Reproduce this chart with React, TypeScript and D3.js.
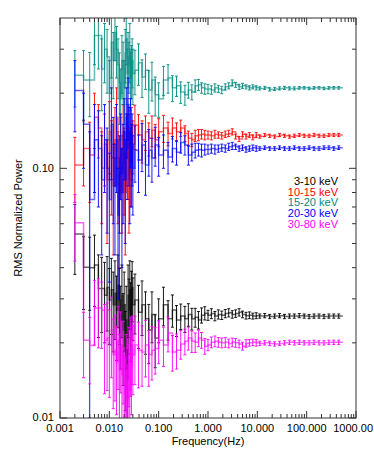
import React from 'react'
import * as d3 from 'd3'

// frequency bins (Hz), grouped the same way in every array below
const FREQ = [
  0.002, 0.003, 0.004, 0.005, 0.006, 0.007, 0.008, 0.009, 0.010, 0.011, 0.012, 0.013, 0.014, 0.015, 0.016, 0.017, 0.018, 0.019, 0.020, 0.021, 0.022, 0.023, 0.024, 0.025, 0.026, 0.027, 0.028, 0.029, 0.030,
  0.033, 0.039, 0.046, 0.054, 0.063, 0.073, 0.085,
  0.10, 0.125, 0.155, 0.19, 0.23, 0.28, 0.34, 0.40, 0.47, 0.55, 0.64, 0.74, 0.86,
  1.0, 1.17, 1.38, 1.62, 1.9, 2.24, 2.63, 3.1, 3.63, 4.27, 5.0, 5.9, 6.9, 8.1, 9.5,
  11.2, 14.1, 17.8, 22.4, 28.2, 35.5, 44.7, 56.2, 70.8, 89.1, 112, 141, 178, 224, 282, 355, 447,
]
const FREQ_END = 540

const BLACK = [
  0.0546, 0.0402, 0.040, 0.041, 0.033, 0.033, 0.031, 0.0333, 0.0297, 0.0326, 0.0284, 0.0316, 0.027, 0.034, 0.0297, 0.0247, 0.031, 0.0225, 0.0284, 0.0187, 0.0247, 0.0142, 0.031, 0.027, 0.0326, 0.0258, 0.0297, 0.0333, 0.0284,
  0.0297, 0.0265, 0.0284, 0.025, 0.0225, 0.026, 0.0209,
  0.025, 0.0284, 0.025, 0.0271, 0.0247, 0.0256, 0.025, 0.026, 0.025, 0.0253, 0.0247, 0.0258, 0.0263,
  0.0258, 0.0262, 0.0256, 0.026, 0.0258, 0.0262, 0.0264, 0.026, 0.0262, 0.0265, 0.026, 0.0257, 0.0258, 0.0256, 0.0257,
  0.0256, 0.0257, 0.0255, 0.0256, 0.0257, 0.0255, 0.0256, 0.0256, 0.0257, 0.0256, 0.0255, 0.0256, 0.0256, 0.0255, 0.0256, 0.0256, 0.0256,
]
const BLACK_ERR = [
  0.017, 0.013, 0.013, 0.013, 0.012, 0.011, 0.011, 0.011, 0.01, 0.011, 0.01, 0.011, 0.01, 0.011, 0.01, 0.009, 0.01, 0.009, 0.01, 0.008, 0.009, 0.0045, 0.01, 0.009, 0.01, 0.009, 0.009, 0.009, 0.008,
  0.008, 0.0075, 0.007, 0.007, 0.006, 0.006, 0.005,
  0.005, 0.005, 0.0045, 0.004, 0.0035, 0.003, 0.003, 0.0027, 0.0025, 0.0022, 0.002, 0.0018, 0.0016,
  0.0012, 0.0012, 0.0011, 0.0011, 0.001, 0.001, 0.001, 0.0009, 0.0009, 0.0009, 0.0008, 0.0008, 0.0008, 0.0007, 0.0007,
  0.0005, 0.0005, 0.0005, 0.0005, 0.0005, 0.0005, 0.0005, 0.0005, 0.0005, 0.0005, 0.0005, 0.0005, 0.0005, 0.0005, 0.0005, 0.0005, 0.0005,
]

const RED = [
  0.103, 0.12, 0.113, 0.16, 0.145, 0.10, 0.125, 0.09, 0.14, 0.11, 0.085, 0.13, 0.16, 0.10, 0.075, 0.12, 0.095, 0.14, 0.105, 0.08, 0.125, 0.15, 0.11, 0.09, 0.13, 0.105, 0.14, 0.12, 0.125,
  0.149, 0.136, 0.13, 0.14, 0.132, 0.142, 0.13,
  0.14, 0.145, 0.138, 0.145, 0.14, 0.145, 0.138, 0.132, 0.13, 0.135, 0.136, 0.137, 0.136,
  0.136, 0.135, 0.137, 0.136, 0.135, 0.137, 0.138, 0.14, 0.134, 0.131, 0.137, 0.134, 0.136, 0.133, 0.136,
  0.134, 0.136, 0.135, 0.134, 0.136, 0.135, 0.134, 0.135, 0.136, 0.135, 0.135, 0.136, 0.135, 0.135, 0.136, 0.136, 0.136,
]
const RED_ERR = [
  0.03, 0.035, 0.04, 0.04, 0.035, 0.04, 0.04, 0.04, 0.045, 0.045, 0.04, 0.045, 0.05, 0.04, 0.035, 0.04, 0.04, 0.04, 0.04, 0.035, 0.04, 0.04, 0.035, 0.035, 0.035, 0.035, 0.035, 0.03, 0.03,
  0.03, 0.028, 0.025, 0.022, 0.02, 0.02, 0.02,
  0.018, 0.018, 0.015, 0.014, 0.012, 0.011, 0.01, 0.009, 0.008, 0.007, 0.007, 0.006, 0.006,
  0.005, 0.005, 0.005, 0.004, 0.004, 0.004, 0.004, 0.004, 0.003, 0.003, 0.003, 0.003, 0.003, 0.003, 0.003,
  0.002, 0.002, 0.002, 0.002, 0.002, 0.002, 0.002, 0.002, 0.002, 0.002, 0.002, 0.002, 0.002, 0.002, 0.002, 0.002, 0.002,
]

const TEAL = [
  0.236, 0.226, 0.226, 0.34, 0.34, 0.25, 0.30, 0.28, 0.20, 0.32, 0.27, 0.35, 0.30, 0.26, 0.22, 0.19, 0.27, 0.25, 0.21, 0.29, 0.33, 0.24, 0.28, 0.26, 0.30, 0.23, 0.25, 0.27, 0.24,
  0.247, 0.265, 0.232, 0.247, 0.206, 0.226, 0.197,
  0.19, 0.226, 0.23, 0.21, 0.214, 0.202, 0.197, 0.206, 0.202, 0.214, 0.216, 0.21, 0.208,
  0.208, 0.206, 0.21, 0.208, 0.206, 0.212, 0.214, 0.22, 0.216, 0.212, 0.214, 0.212, 0.21, 0.212, 0.21,
  0.209, 0.21, 0.207, 0.208, 0.209, 0.21, 0.209, 0.209, 0.21, 0.21, 0.209, 0.21, 0.21, 0.209, 0.21, 0.21, 0.21,
]
const TEAL_ERR = [
  0.06, 0.07, 0.065, 0.08, 0.09, 0.08, 0.08, 0.08, 0.07, 0.09, 0.08, 0.08, 0.07, 0.07, 0.07, 0.06, 0.07, 0.07, 0.06, 0.07, 0.07, 0.06, 0.07, 0.06, 0.08, 0.06, 0.06, 0.06, 0.06,
  0.05, 0.05, 0.04, 0.04, 0.04, 0.04, 0.035,
  0.03, 0.03, 0.03, 0.025, 0.02, 0.02, 0.018, 0.015, 0.014, 0.012, 0.011, 0.01, 0.01,
  0.009, 0.008, 0.008, 0.007, 0.007, 0.006, 0.006, 0.006, 0.005, 0.005, 0.005, 0.004, 0.004, 0.004, 0.004,
  0.003, 0.003, 0.003, 0.003, 0.003, 0.003, 0.003, 0.003, 0.0025, 0.0025, 0.0025, 0.0025, 0.0025, 0.0025, 0.0025, 0.0025, 0.0025,
]

const BLUE = [
  0.205, 0.15, 0.075, 0.13, 0.12, 0.09, 0.13, 0.10, 0.075, 0.15, 0.11, 0.085, 0.13, 0.065, 0.095, 0.12, 0.08, 0.105, 0.14, 0.09, 0.16, 0.12, 0.18, 0.13, 0.10, 0.145, 0.11, 0.125, 0.10,
  0.118, 0.108, 0.124, 0.103, 0.118, 0.11, 0.124,
  0.113, 0.118, 0.111, 0.12, 0.116, 0.127, 0.124, 0.113, 0.116, 0.118, 0.119, 0.118, 0.119,
  0.119, 0.12, 0.119, 0.12, 0.121, 0.12, 0.122, 0.123, 0.122, 0.12, 0.121, 0.119, 0.12, 0.121, 0.12,
  0.12, 0.121, 0.12, 0.12, 0.121, 0.12, 0.12, 0.121, 0.12, 0.12, 0.121, 0.12, 0.12, 0.121, 0.121, 0.12, 0.121,
]
const BLUE_ERR = [
  0.065, 0.05, 0.065, 0.05, 0.05, 0.045, 0.05, 0.045, 0.04, 0.06, 0.05, 0.04, 0.05, 0.035, 0.04, 0.045, 0.04, 0.045, 0.05, 0.04, 0.05, 0.045, 0.05, 0.045, 0.04, 0.045, 0.04, 0.04, 0.035,
  0.03, 0.028, 0.027, 0.025, 0.025, 0.022, 0.022,
  0.02, 0.018, 0.016, 0.014, 0.013, 0.012, 0.011, 0.01, 0.009, 0.008, 0.007, 0.007, 0.006,
  0.005, 0.005, 0.005, 0.004, 0.004, 0.004, 0.004, 0.004, 0.003, 0.003, 0.003, 0.003, 0.003, 0.003, 0.003,
  0.002, 0.002, 0.002, 0.002, 0.002, 0.002, 0.002, 0.002, 0.002, 0.002, 0.002, 0.002, 0.002, 0.002, 0.002, 0.002, 0.002,
]

const MAGENTA = [
  0.0605, 0.0205, 0.0195, 0.0276, 0.0276, 0.027, 0.0205, 0.0209, 0.0196, 0.0225, 0.0179, 0.0187, 0.0168, 0.0205, 0.0156, 0.0196, 0.0149, 0.0179, 0.0136, 0.0124, 0.0156, 0.0118, 0.0142, 0.0171, 0.0129, 0.0187, 0.0163, 0.0196, 0.0179,
  0.0196, 0.0187, 0.0184, 0.0196, 0.0179, 0.0187, 0.019,
  0.0205, 0.0196, 0.0219, 0.0184, 0.0187, 0.0198, 0.0203, 0.0209, 0.0203, 0.0201, 0.0209, 0.0205, 0.0194,
  0.0196, 0.0201, 0.0203, 0.0201, 0.02, 0.0201, 0.0199, 0.0201, 0.02, 0.0198, 0.0194, 0.0199, 0.02, 0.0201, 0.02,
  0.0199, 0.02, 0.0199, 0.0198, 0.0199, 0.02, 0.0201, 0.02, 0.0201, 0.02, 0.02, 0.0201, 0.02, 0.02, 0.0201, 0.0201, 0.0201,
]
const MAGENTA_ERR = [
  0.018, 0.006, 0.0058, 0.008, 0.0085, 0.008, 0.008, 0.008, 0.0075, 0.008, 0.007, 0.007, 0.0065, 0.0075, 0.006, 0.007, 0.006, 0.0065, 0.0055, 0.005, 0.006, 0.0045, 0.0055, 0.006, 0.005, 0.0065, 0.006, 0.006, 0.0055,
  0.006, 0.0055, 0.005, 0.005, 0.0045, 0.0045, 0.004,
  0.004, 0.0035, 0.0035, 0.003, 0.003, 0.0026, 0.0024, 0.0022, 0.002, 0.0018, 0.0016, 0.0015, 0.0014,
  0.001, 0.001, 0.001, 0.0009, 0.0009, 0.0009, 0.0008, 0.0008, 0.0008, 0.0007, 0.0007, 0.0007, 0.0006, 0.0006, 0.0006,
  0.0004, 0.0004, 0.0004, 0.0004, 0.0004, 0.0004, 0.0004, 0.0004, 0.0004, 0.0004, 0.0004, 0.0004, 0.0004, 0.0004, 0.0004, 0.0004, 0.0004,
]

const BAND_LABELS = ['3-10 keV', '10-15 keV', '15-20 keV', '20-30 keV', '30-80 keV']
const BAND_COLORS = ['#000000', '#ff0000', '#008b80', '#0000ff', '#ff00ff']
const BAND_VALUES = [BLACK, RED, TEAL, BLUE, MAGENTA]
const BAND_ERRORS = [BLACK_ERR, RED_ERR, TEAL_ERR, BLUE_ERR, MAGENTA_ERR]

const X_TICKS = [0.001, 0.01, 0.1, 1, 10, 100, 1000]
const X_TICK_LABELS = ['0.001', '0.010', '0.100', '1.000', '10.000', '100.000', '1000.00']
const Y_TICKS = [0.01, 0.1]
const Y_TICK_LABELS = ['0.01', '0.10']

const W = 374
const H = 457
const margin = { top: 18, right: 18, bottom: 39, left: 60 }
const FONT = "'Liberation Sans', Arial, Helvetica, sans-serif"

export default function App() {
  const innerW = W - margin.left - margin.right
  const innerH = H - margin.top - margin.bottom

  const x = d3.scaleLog().domain([0.001, 1000]).range([0, innerW])
  const y = d3.scaleLog().domain([0.01, 0.4]).range([innerH, 0])

  // minor ticks 2..9 of each decade
  const xMinor: number[] = []
  for (let d = 0.001; d < 1000; d *= 10) {
    for (let k = 2; k <= 9; k++) xMinor.push(d * k)
  }
  const yMinor = [0.02, 0.03, 0.04, 0.05, 0.06, 0.07, 0.08, 0.09, 0.2, 0.3]

  const line = d3.line<[number, number]>()
    .x(d => x(d[0]))
    .y(d => y(d[1]))
    .curve(d3.curveStepAfter)

  const series = BAND_LABELS.map((label, k) => {
    const vals = BAND_VALUES[k]
    const errs = BAND_ERRORS[k]
    const pts: [number, number][] = FREQ.map((f, i) => [f, vals[i]])
    pts.push([FREQ_END, vals[vals.length - 1]])
    let bars = ''
    FREQ.forEach((f, i) => {
      const cx = x(f)
      const hi = y(vals[i] + errs[i])
      const lo = y(Math.max(vals[i] - errs[i], 0.002))
      bars += `M${cx},${hi}V${lo}M${cx - 1.5},${hi}H${cx + 1.5}M${cx - 1.5},${lo}H${cx + 1.5}`
    })
    return { label, color: BAND_COLORS[k], step: line(pts) || '', bars }
  })

  const major = 7
  const minor = 4
  const lastTick = X_TICKS.length - 1

  return (
    <div style={{ position: 'absolute', left: 0, top: 0, width: W, height: H, background: '#fff' }}>
      <svg width={W} height={H} style={{ display: 'block' }} fontFamily={FONT}>
        <defs>
          <clipPath id="plotClip">
            <rect x={0} y={0} width={innerW} height={innerH} />
          </clipPath>
        </defs>
        <g transform={`translate(${margin.left},${margin.top})`}>
          <g clipPath="url(#plotClip)">
            {series.map(s => (
              <g key={s.label}>
                <path d={s.step} fill="none" stroke={s.color} strokeWidth={1.5} strokeOpacity={0.6} />
                <path d={s.bars} fill="none" stroke={s.color} strokeWidth={1} strokeOpacity={0.9} />
              </g>
            ))}
          </g>

          {/* frame */}
          <rect x={0} y={0} width={innerW} height={innerH} fill="none" stroke="#333" strokeWidth={1} />

          {/* x ticks, bottom and top */}
          {X_TICKS.map(t => (
            <g key={'xt' + t}>
              <line x1={x(t)} x2={x(t)} y1={innerH} y2={innerH - major} stroke="#333" />
              <line x1={x(t)} x2={x(t)} y1={0} y2={major} stroke="#333" />
            </g>
          ))}
          {xMinor.map(t => (
            <g key={'xm' + t}>
              <line x1={x(t)} x2={x(t)} y1={innerH} y2={innerH - minor} stroke="#333" />
              <line x1={x(t)} x2={x(t)} y1={0} y2={minor} stroke="#333" />
            </g>
          ))}
          {X_TICKS.map((t, i) => (
            <text
              key={'xl' + t}
              x={i === lastTick ? W - margin.left - 1 : x(t)}
              y={innerH + 14}
              textAnchor={i === lastTick ? 'end' : 'middle'}
              fontSize={11}
              fill="#000"
            >
              {X_TICK_LABELS[i]}
            </text>
          ))}
          <text x={innerW / 2} y={innerH + 27} textAnchor="middle" fontSize={11} fill="#000">
            Frequency(Hz)
          </text>

          {/* y ticks, left and right */}
          {Y_TICKS.map(t => (
            <g key={'yt' + t}>
              <line x1={0} x2={major} y1={y(t)} y2={y(t)} stroke="#333" />
              <line x1={innerW} x2={innerW - major} y1={y(t)} y2={y(t)} stroke="#333" />
            </g>
          ))}
          {yMinor.map(t => (
            <g key={'ym' + t}>
              <line x1={0} x2={minor} y1={y(t)} y2={y(t)} stroke="#333" />
              <line x1={innerW} x2={innerW - minor} y1={y(t)} y2={y(t)} stroke="#333" />
            </g>
          ))}
          {Y_TICKS.map((t, i) => (
            <text key={'yl' + t} x={-6} y={y(t)} dy="0.3em" textAnchor="end" fontSize={11} fill="#000">
              {Y_TICK_LABELS[i]}
            </text>
          ))}
          <text
            transform={`translate(${-38},${innerH / 2}) rotate(-90)`}
            textAnchor="middle"
            fontSize={11}
            fill="#000"
          >
            RMS Normalized Power
          </text>

          {/* legend */}
          {series.map((s, i) => (
            <text key={'lg' + s.label} x={278} y={167 + i * 10.7} textAnchor="end" fontSize={11} fill={s.color}>
              {s.label}
            </text>
          ))}
        </g>
      </svg>
    </div>
  )
}
